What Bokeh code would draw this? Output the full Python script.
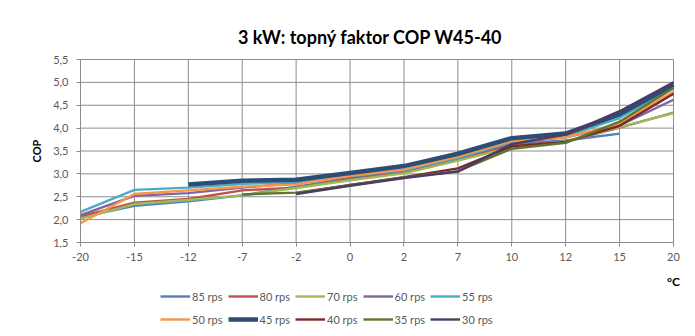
from bokeh.plotting import figure
from bokeh.models import (FixedTicker, CustomJSTickFormatter, Legend, LegendItem,
                          Label)
from bokeh.embed import file_html
from bokeh.resources import INLINE
import math

title_text = "3 kW: topný faktor COP W45-40"
categories = ["-20", "-15", "-12", "-7", "-2", "0", "2", "7", "10", "12", "15", "20"]
y_ticks = [1.5, 2.0, 2.5, 3.0, 3.5, 4.0, 4.5, 5.0, 5.5]
nan = float("nan")

s85 = [2.05, 2.30, 2.40, 2.53, 2.72, 2.90, 3.05, 3.33, 3.65, 3.73, 3.88, nan]
s80 = [2.07, 2.37, 2.45, 2.64, 2.70, 2.88, 3.03, 3.30, 3.62, 3.70, 4.01, 4.34]
s70 = [2.02, 2.34, 2.43, 2.53, 2.69, 2.86, 3.01, 3.29, 3.58, 3.71, 4.02, 4.33]
s60 = [2.10, 2.52, 2.58, 2.70, 2.80, 2.93, 3.07, 3.36, 3.68, 3.80, 4.06, 4.62]
s55 = [2.17, 2.65, 2.70, 2.78, 2.83, 2.95, 3.08, 3.35, 3.70, 3.82, 4.22, 4.90]
s50 = [1.92, 2.56, 2.64, 2.72, 2.77, 2.96, 3.10, 3.38, 3.72, 3.80, 4.10, 4.80]
s45 = [nan, nan, 2.77, 2.85, 2.87, 3.02, 3.17, 3.44, 3.78, 3.88, 4.30, 4.95]
s40 = [nan, nan, nan, nan, 2.57, 2.76, 2.93, 3.12, 3.60, 3.70, 4.05, 4.75]
s35 = [nan, nan, nan, 2.55, 2.59, 2.75, 2.92, 3.06, 3.55, 3.68, 4.14, 4.88]
s30 = [nan, nan, nan, nan, 2.56, 2.74, 2.91, 3.05, 3.65, 3.86, 4.37, 5.00]

series_names = ["85 rps", "80 rps", "70 rps", "60 rps", "55 rps",
                "50 rps", "45 rps", "40 rps", "35 rps", "30 rps"]
series_values = [s85, s80, s70, s60, s55, s50, s45, s40, s35, s30]
colors = ["#4F81BD", "#C0504D", "#9BBB59", "#8064A2", "#4BACC6",
          "#F79646", "#2C4D75", "#772C2A", "#5F7530", "#4D3B62"]
widths = [2.4, 2.4, 2.4, 2.4, 2.4, 2.4, 4.5, 2.4, 2.4, 2.4]

FONT = "Lato"
GRAY_TXT = "#595959"
GRID = "#8c8c8c"

# pixel layout of the value area inside the 695 x 336 canvas
W, H = 695, 336
PLOT_L, PLOT_T, PLOT_W, PLOT_H = 80, 59, 593, 183
xs = list(range(len(categories)))
ymin, ymax = y_ticks[0], y_ticks[-1]
px_x = PLOT_W / (xs[-1] - xs[0])
px_y = PLOT_H / (ymax - ymin)
x_lo = xs[0] - PLOT_L / px_x
x_hi = xs[-1] + (W - PLOT_L - PLOT_W) / px_x
y_lo = ymin - (H - PLOT_T - PLOT_H) / px_y
y_hi = ymax + PLOT_T / px_y

p = figure(width=W, height=H, frame_width=W, frame_height=H,
           min_border_left=0, min_border_right=0, min_border_top=0,
           min_border_bottom=0, output_backend="svg", toolbar_location=None,
           x_range=(x_lo, x_hi), y_range=(y_lo, y_hi))

p.add_layout(Label(x=370, y=H - 36, x_units="screen", y_units="screen",
                   text=title_text, text_align="center", text_baseline="middle",
                   text_font=FONT, text_font_size="18px", text_font_style="bold",
                   text_color="#000000"))

# grid lines limited to the value area
p.segment(x0=xs, y0=[ymin] * len(xs), x1=xs, y1=[ymax] * len(xs),
          line_color=GRID, line_width=1)
p.segment(x0=[xs[0]] * len(y_ticks), y0=y_ticks, x1=[xs[-1]] * len(y_ticks),
          y1=y_ticks, line_color=GRID, line_width=1)

items = []
for name, vals, c, w in zip(series_names, series_values, colors, widths):
    xx = [x for x, v in zip(xs, vals) if not math.isnan(v)]
    yy = [v for v in vals if not math.isnan(v)]
    r = p.line(xx, yy, line_color=c, line_width=w)
    items.append(LegendItem(label=name, renderers=[r]))

p.xaxis.ticker = FixedTicker(ticks=xs)
p.xaxis.major_label_overrides = {i: c for i, c in enumerate(categories)}
p.xaxis.fixed_location = ymin
p.xaxis.bounds = (xs[0], xs[-1])
p.yaxis.ticker = FixedTicker(ticks=y_ticks)
p.yaxis.fixed_location = xs[0]
p.yaxis.bounds = (ymin, ymax)
p.yaxis.formatter = CustomJSTickFormatter(code="return tick.toFixed(1).replace('.', ',');")

for ax in (p.xaxis, p.yaxis):
    ax.axis_line_color = GRID
    ax.major_tick_line_color = GRID
    ax.major_tick_out = 4
    ax.major_tick_in = 0
    ax.minor_tick_line_color = None
    ax.major_label_text_font = FONT
    ax.major_label_text_font_size = "11px"
    ax.major_label_text_color = GRAY_TXT

p.xaxis.major_label_standoff = 6
p.yaxis.major_label_standoff = 8
p.yaxis.axis_label = "COP"
p.yaxis.axis_label_text_font = FONT
p.yaxis.axis_label_text_font_style = "bold"
p.yaxis.axis_label_text_font_size = "11px"
p.yaxis.axis_label_text_color = "#000000"
p.yaxis.axis_label_standoff = 7

p.xaxis.axis_label = "°C"
p.xaxis.axis_label_text_font = FONT
p.xaxis.axis_label_text_font_style = "bold"
p.xaxis.axis_label_text_font_size = "12px"
p.xaxis.axis_label_text_color = "#000000"
p.xaxis.axis_label_standoff = 10
p.xaxis.axis_label_align = "end"

p.xgrid.grid_line_color = None
p.ygrid.grid_line_color = None
p.outline_line_color = None
p.background_fill_color = "white"
p.border_fill_color = "white"

legend = Legend(items=items, location=(160, 8), orientation="horizontal", ncols=5,
                glyph_width=30, glyph_height=12, label_standoff=2, spacing=5,
                padding=0, margin=0, border_line_color=None,
                background_fill_alpha=0, label_text_font=FONT,
                label_text_font_size="11px", label_text_color=GRAY_TXT,
                label_height=18)
p.add_layout(legend, "center")

open("out.html", "w").write(file_html(p, INLINE))
